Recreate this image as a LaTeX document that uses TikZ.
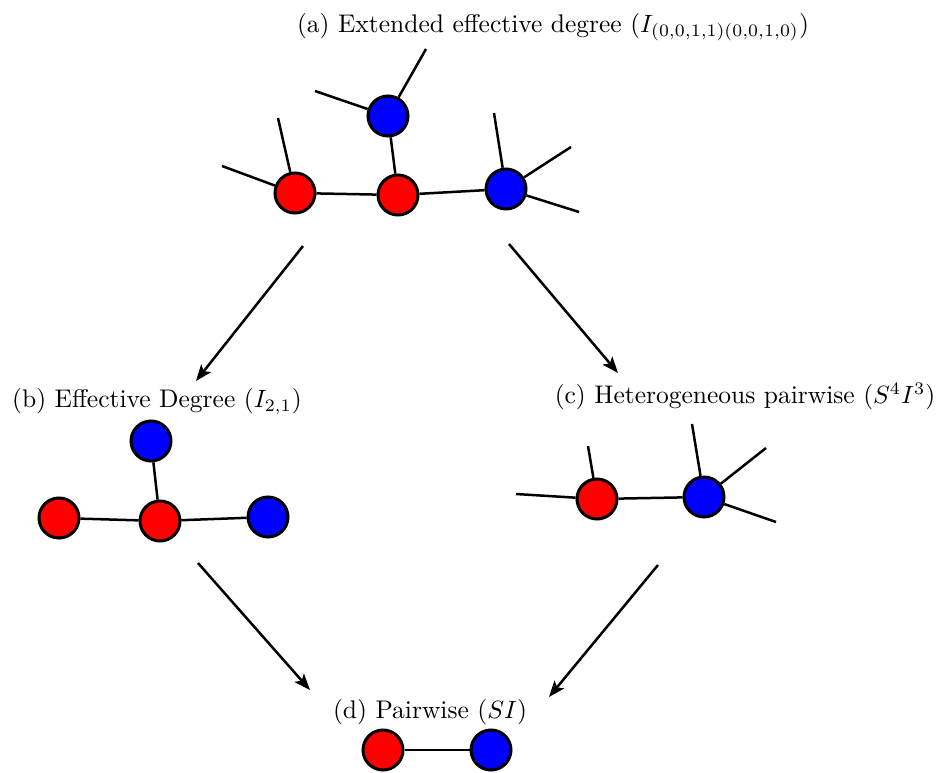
\documentclass[tikz,border=0pt]{standalone}
\usepackage{amsmath,amssymb}
\usetikzlibrary{arrows.meta,positioning}

\begin{document}
\begin{tikzpicture}[x=0.4pt, y=-0.4pt,
    every node/.style={font=\fontsize{10.2pt}{12pt}\selectfont},
    snode/.style={draw, circle, fill=red, line width=1.2pt, minimum size=16pt, inner sep=0pt},
    inode/.style={draw, circle, fill=blue, line width=1.2pt, minimum size=16pt, inner sep=0pt},
    link/.style={line width=1pt},
    flow/.style={-{Stealth[length=6.5pt, width=5pt, inset=1.5pt]}, line width=1pt}]
    \useasboundingbox (0,0) rectangle (948,773);

    % (a) extended effective degree
    \node (ta) at (553,27) {(a) Extended effective degree ($I_{(0,0,1,1)(0,0,1,0)}$)};
    \node[inode] (a1) at (388,116) {};
    \node[snode] (a2) at (295,193) {};
    \node[snode] (a3) at (398,195) {};
    \node[inode] (a4) at (506,189) {};
    \coordinate (a1s1) at (315,91);
    \coordinate (a1s2) at (426,49);
    \coordinate (a2s1) at (278,118);
    \coordinate (a2s2) at (222,166);
    \coordinate (a4s1) at (494,113);
    \coordinate (a4s2) at (571,147);
    \coordinate (a4s3) at (579,212);
    \draw[link] (a2) -- (a3);
    \draw[link] (a3) -- (a4);
    \draw[link] (a3) -- (a1);
    \draw[link] (a1) -- (a1s1);
    \draw[link] (a1) -- (a1s2);
    \draw[link] (a2) -- (a2s1);
    \draw[link] (a2) -- (a2s2);
    \draw[link] (a4) -- (a4s1);
    \draw[link] (a4) -- (a4s2);
    \draw[link] (a4) -- (a4s3);

    % (b) effective degree
    \node (tb) at (157,402) {(b) Effective Degree ($I_{2,1}$)};
    \node[inode] (b1) at (151,441) {};
    \node[snode] (b2) at (59,518) {};
    \node[snode] (b3) at (160,521) {};
    \node[inode] (b4) at (268,517) {};
    \draw[link] (b2) -- (b3);
    \draw[link] (b3) -- (b4);
    \draw[link] (b3) -- (b1);

    % (c) heterogeneous pairwise
    \node (tc) at (745,397) {(c) Heterogeneous pairwise ($S^4I^3$)};
    \node[snode] (c1) at (597,499) {};
    \node[inode] (c2) at (704,497) {};
    \coordinate (c1s1) at (516,494);
    \coordinate (c1s2) at (588,446);
    \coordinate (c2s1) at (692,424);
    \coordinate (c2s2) at (766,448);
    \coordinate (c2s3) at (776,522);
    \draw[link] (c1) -- (c2);
    \draw[link] (c1) -- (c1s1);
    \draw[link] (c1) -- (c1s2);
    \draw[link] (c2) -- (c2s1);
    \draw[link] (c2) -- (c2s2);
    \draw[link] (c2) -- (c2s3);

    % (d) pairwise
    \node (td) at (430,712) {(d) Pairwise ($SI$)};
    \node[snode] (d1) at (383,750) {};
    \node[inode] (d2) at (491,750) {};
    \draw[link] (d1) -- (d2);

    % arrows between levels
    \coordinate (fa1) at (303,246);
    \coordinate (fb1) at (196,381);
    \coordinate (fa2) at (509,244);
    \coordinate (fc1) at (618,373);
    \coordinate (fb2) at (198,563);
    \coordinate (fd1) at (310,690);
    \coordinate (fc2) at (658,565);
    \coordinate (fd2) at (549,697);
    \draw[flow] (fa1) -- (fb1);
    \draw[flow] (fa2) -- (fc1);
    \draw[flow] (fb2) -- (fd1);
    \draw[flow] (fc2) -- (fd2);
\end{tikzpicture}
\end{document}
